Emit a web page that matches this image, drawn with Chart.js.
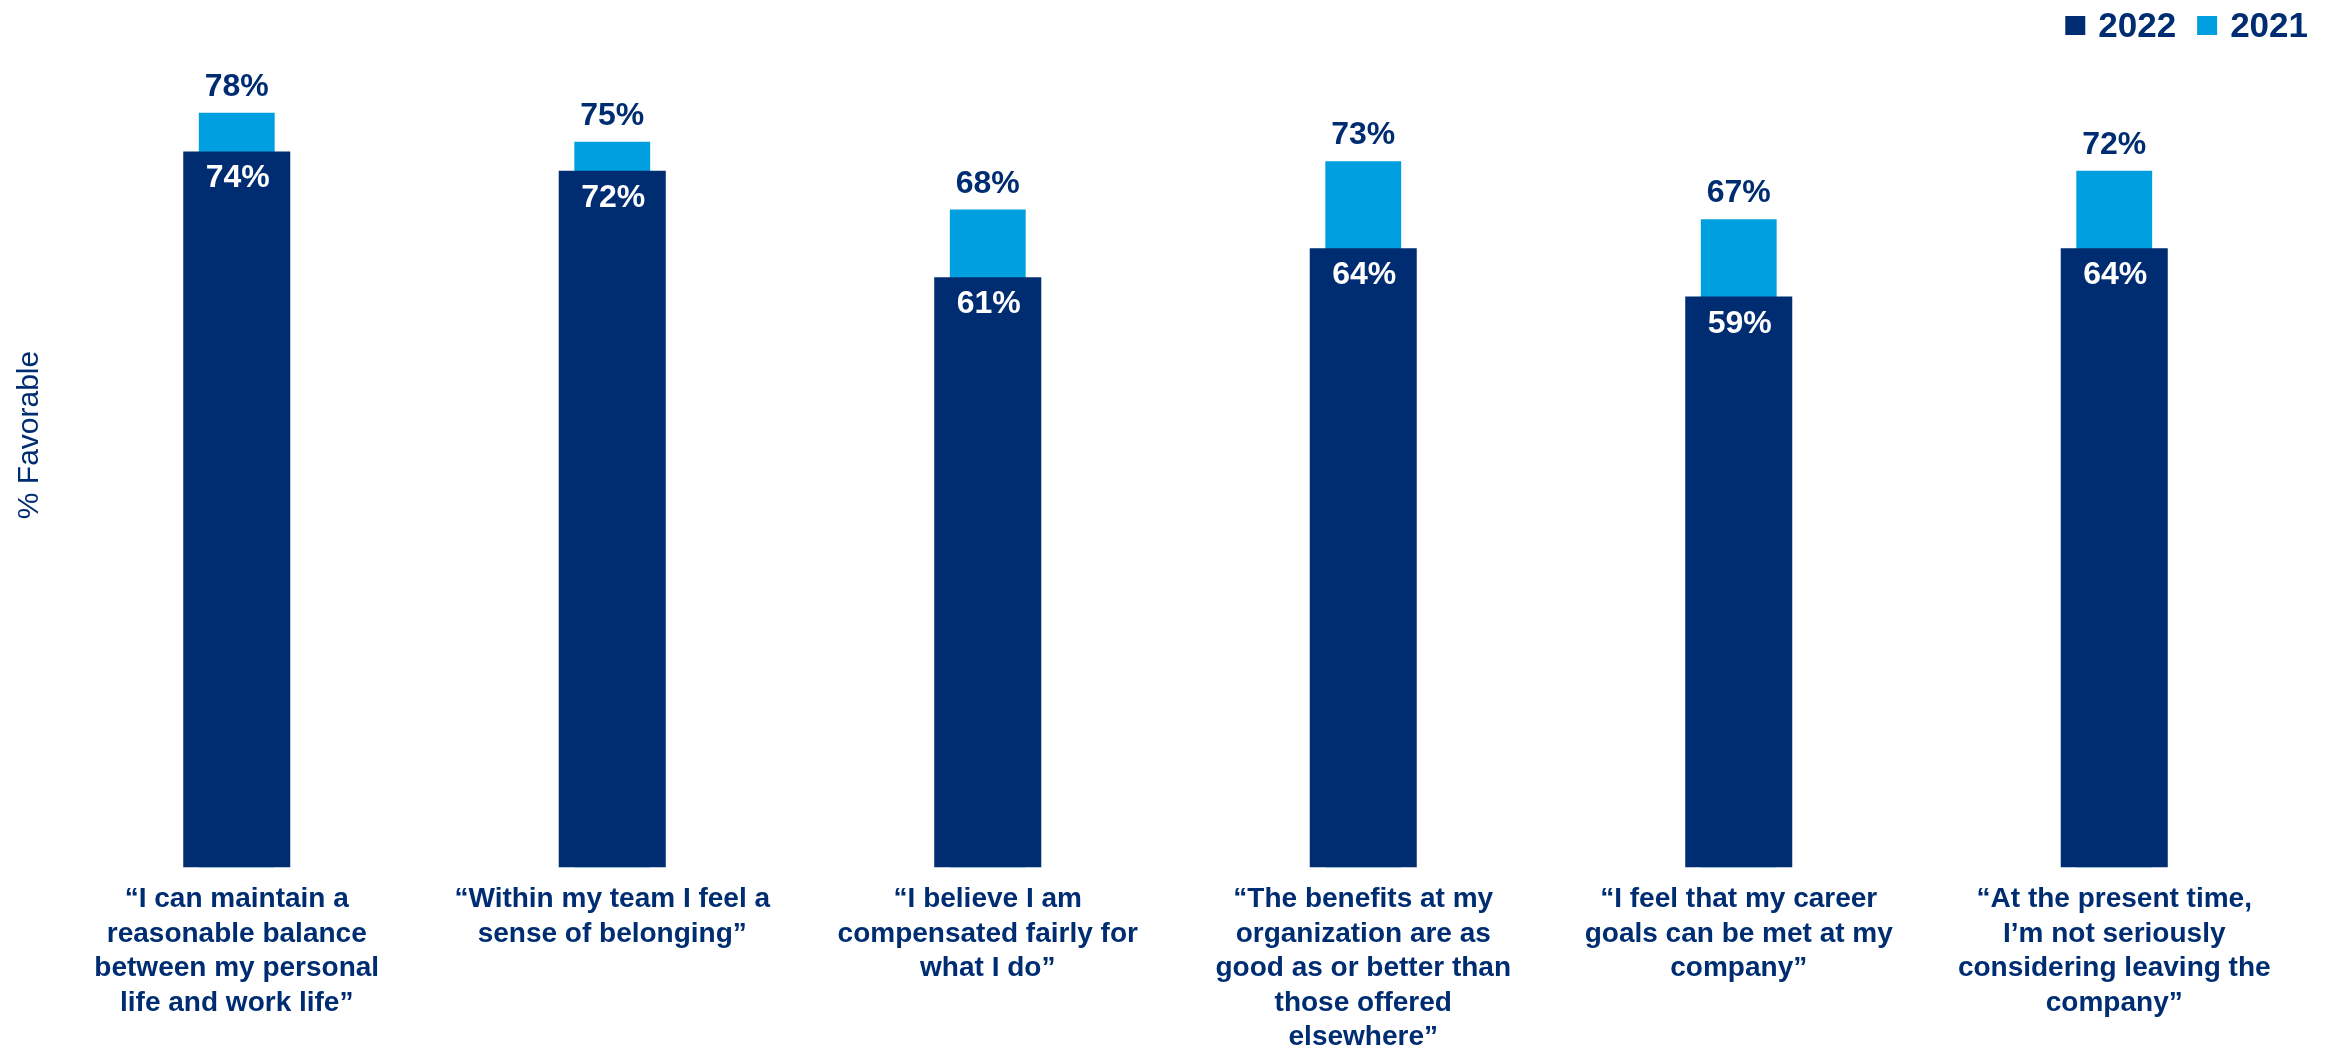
<!DOCTYPE html>
<html>
<head>
<meta charset="utf-8">
<title>% Favorable by statement, 2022 vs 2021</title>
<script src="https://cdn.jsdelivr.net/npm/chart.js@4/dist/chart.umd.min.js"></script>
<style>
  html, body { margin: 0; padding: 0; background: #ffffff; overflow: hidden; }
  #wrap { position: relative; width: 2338px; height: 1052px; }
</style>
</head>
<body>
<div id="wrap"><canvas id="chart" width="2338" height="1052"></canvas></div>
<script>
// Survey statements (x categories), one array entry per line of the label
const statements = [
  ['\u201CI can maintain a', 'reasonable balance', 'between my personal', 'life and work life\u201D'],
  ['\u201CWithin my team I feel a', 'sense of belonging\u201D'],
  ['\u201CI believe I am', 'compensated fairly for', 'what I do\u201D'],
  ['\u201CThe benefits at my', 'organization are as', 'good as or better than', 'those offered', 'elsewhere\u201D'],
  ['\u201CI feel that my career', 'goals can be met at my', 'company\u201D'],
  ['\u201CAt the present time,', 'I\u2019m not seriously', 'considering leaving the', 'company\u201D']
];

// % favorable per year
const favorable2022 = [74, 72, 61, 64, 59, 64];
const favorable2021 = [78, 75, 68, 73, 67, 72];

const seriesNames = ['2022', '2021'];

const NAVY = '#002D72';
const SKY = '#009FDF';
const FONT = '"Liberation Sans", Arial, Helvetica, sans-serif';

// Value labels: 2022 inside the top of its bar (white), 2021 above its bar (navy)
const valueLabels = {
  id: 'valueLabels',
  afterDatasetsDraw(chart) {
    const ctx = chart.ctx;
    ctx.save();
    ctx.font = 'bold 32px ' + FONT;
    ctx.textAlign = 'center';
    ctx.textBaseline = 'alphabetic';
    chart.data.datasets.forEach((ds, i) => {
      const meta = chart.getDatasetMeta(i);
      meta.data.forEach((bar, j) => {
        const txt = ds.data[j] + '%';
        if (ds.label === '2022') {
          ctx.fillStyle = '#ffffff';
          ctx.fillText(txt, bar.x + 1, bar.y + 36);
        } else {
          ctx.fillStyle = NAVY;
          ctx.fillText(txt, bar.x, bar.y - 17);
        }
      });
    });
    ctx.restore();
  }
};

// Legend in the top-right corner: square swatch + bold year
const cornerLegend = {
  id: 'cornerLegend',
  afterDraw(chart) {
    const ctx = chart.ctx;
    ctx.save();
    ctx.font = 'bold 35px ' + FONT;
    ctx.textBaseline = 'alphabetic';
    ctx.textAlign = 'left';
    const box = 20, gapText = 13, gapItem = 21, rightEdge = 2308;
    const items = chart.data.datasets.map(ds => ({
      label: ds.label, color: ds.backgroundColor, w: ctx.measureText(ds.label).width
    }));
    let total = 0;
    items.forEach((it, k) => { total += box + gapText + it.w + (k ? gapItem : 0); });
    let x = rightEdge - total;
    items.forEach((it, k) => {
      if (k) x += gapItem;
      ctx.fillStyle = it.color;
      ctx.fillRect(x, 16, box, 19);
      x += box + gapText;
      ctx.fillStyle = NAVY;
      ctx.fillText(it.label, x, 37);
      x += it.w;
    });
    ctx.restore();
  }
};

// Vertical axis caption on the left edge
const axisCaption = {
  id: 'axisCaption',
  afterDraw(chart) {
    const ctx = chart.ctx;
    ctx.save();
    ctx.translate(30, 435);
    ctx.rotate(-Math.PI / 2);
    ctx.font = '30px ' + FONT;
    ctx.fillStyle = NAVY;
    ctx.textAlign = 'center';
    ctx.textBaseline = 'middle';
    ctx.fillText('% Favorable', 0, 0);
    ctx.restore();
  }
};

new Chart(document.getElementById('chart'), {
  type: 'bar',
  data: {
    labels: statements,
    datasets: [
      {
        label: seriesNames[0],
        data: favorable2022,
        backgroundColor: NAVY,
        grouped: false,
        order: 0,
        categoryPercentage: 1,
        barPercentage: 0.285
      },
      {
        label: seriesNames[1],
        data: favorable2021,
        backgroundColor: SKY,
        grouped: false,
        order: 1,
        categoryPercentage: 1,
        barPercentage: 0.202
      }
    ]
  },
  options: {
    responsive: false,
    animation: false,
    devicePixelRatio: 1,
    layout: { padding: { left: 49, right: 36, top: 16, bottom: -18 } },
    plugins: {
      legend: { display: false },
      tooltip: { enabled: false }
    },
    scales: {
      x: {
        grid: { display: false, drawTicks: false },
        border: { display: false },
        ticks: {
          autoSkip: false,
          maxRotation: 0,
          minRotation: 0,
          padding: 15,
          color: NAVY,
          font: { family: FONT, size: 28, weight: 'bold', lineHeight: '34.5px' }
        }
      },
      y: {
        display: false,
        min: 0,
        max: 88
      }
    }
  },
  plugins: [valueLabels, cornerLegend, axisCaption]
});
</script>
</body>
</html>
